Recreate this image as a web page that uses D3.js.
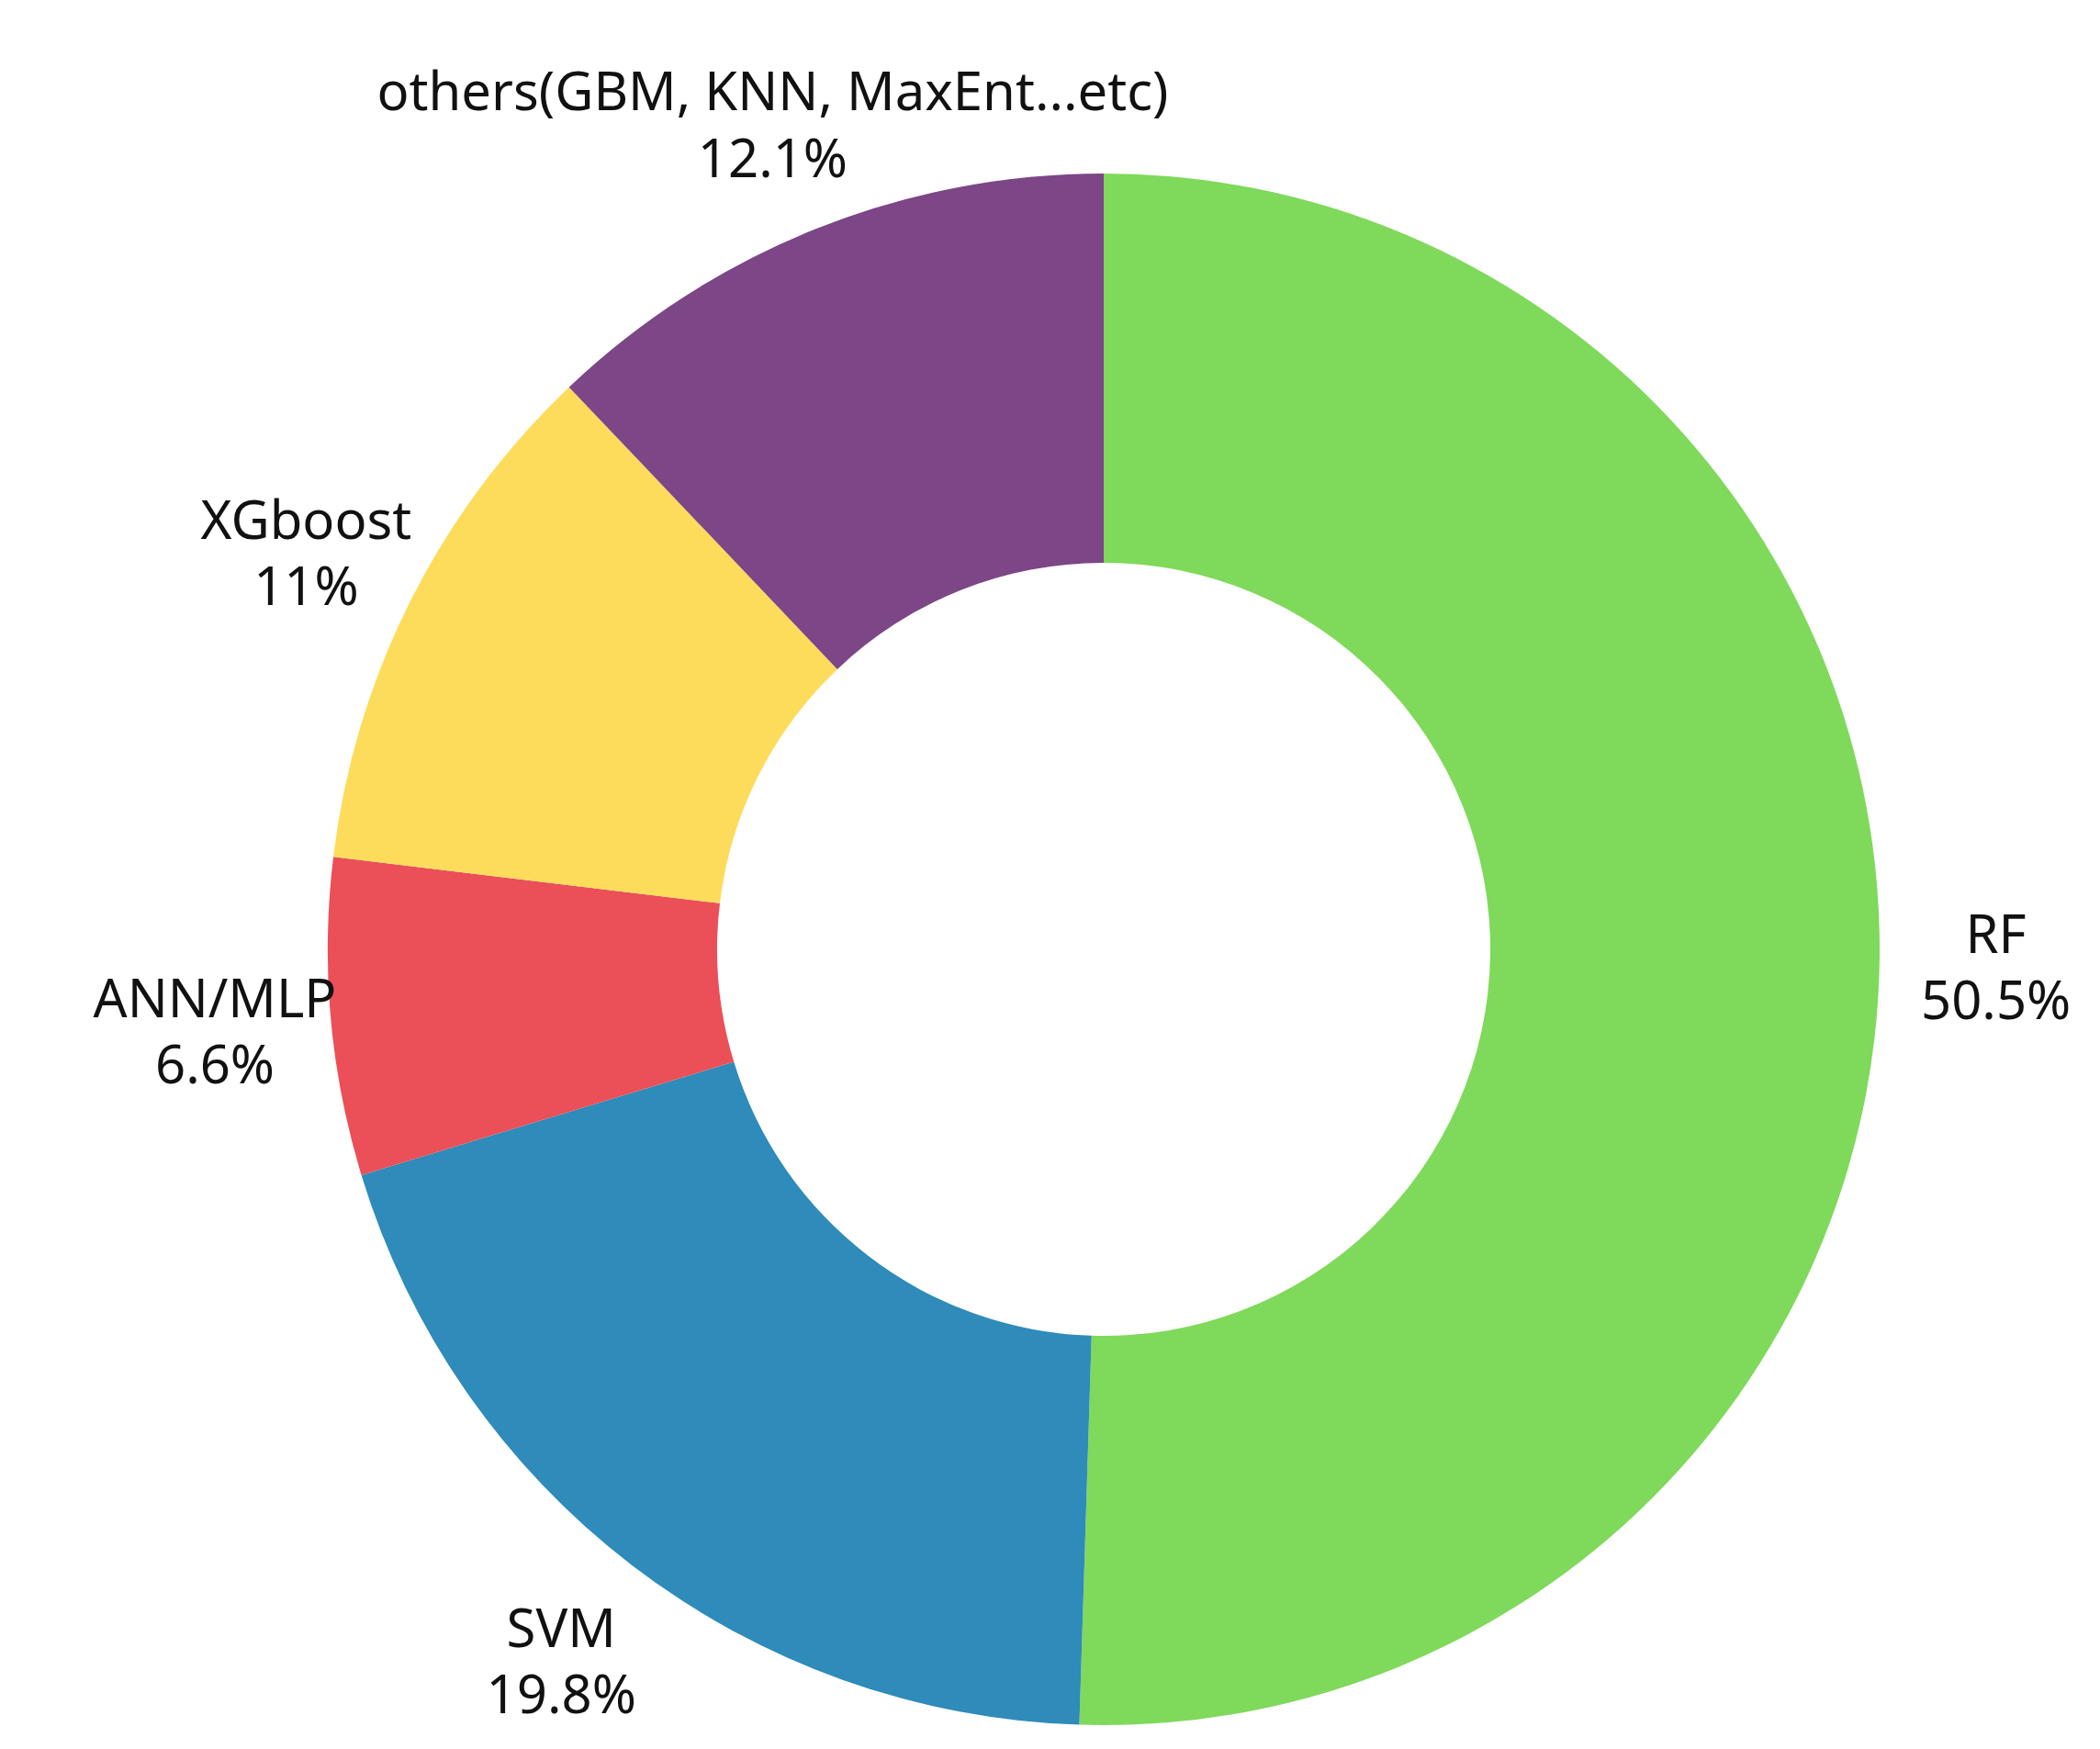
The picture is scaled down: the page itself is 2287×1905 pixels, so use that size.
<!DOCTYPE html>
<html>
<head>
<meta charset="utf-8">
<script src="https://cdn.jsdelivr.net/npm/d3@7"></script>
<style>
  body { margin: 0; background: #fff; }
  svg text { font-family: "Noto Sans", "Open Sans", sans-serif; }
</style>
</head>
<body>
<div id="chart"></div>
<script>
// data
const categories = ["RF", "SVM", "ANN/MLP", "XGboost", "others(GBM, KNN, MaxEnt...etc)"];
const values = [50.5, 19.8, 6.6, 11, 12.1];
const valueLabels = ["50.5%", "19.8%", "6.6%", "11%", "12.1%"];
const colors = ["#7fd95a", "#2e8bba", "#eb4f57", "#fddc5c", "#7c4687"];

const width = 2287, height = 1905;
const cx = 1202, cy = 1034;
const outerR = 845, innerR = 421, labelR = outerR * 1.15;

const data = categories.map((c, i) => ({ name: c, value: values[i], label: valueLabels[i], color: colors[i] }));

const svg = d3.select("#chart").append("svg")
  .attr("width", width).attr("height", height);
const g = svg.append("g").attr("transform", `translate(${cx},${cy})`);

const pie = d3.pie().value(d => d.value).sort(null);
const arc = d3.arc().innerRadius(innerR).outerRadius(outerR);
const labelArc = d3.arc().innerRadius(labelR).outerRadius(labelR);

const arcs = pie(data);

g.selectAll("path").data(arcs).enter().append("path")
  .attr("d", arc)
  .attr("fill", d => d.data.color);

const labels = g.selectAll("text.lbl").data(arcs).enter().append("text")
  .attr("class", "lbl")
  .attr("text-anchor", "middle")
  .attr("font-size", 58)
  .attr("fill", "#111")
  .attr("transform", d => `translate(${labelArc.centroid(d)})`);

labels.append("tspan").attr("x", 0).attr("dy", "-0.2em").text(d => d.data.name);
labels.append("tspan").attr("x", 0).attr("dy", "1.25em").text(d => d.data.label);
</script>
</body>
</html>
